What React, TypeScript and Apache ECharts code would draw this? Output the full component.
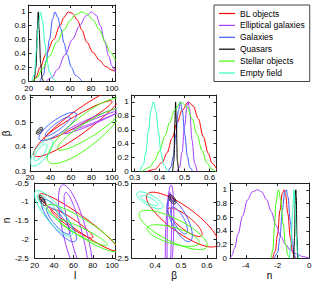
import React, { useEffect, useRef } from 'react';
import * as echarts from 'echarts';

const names = ['BL objects', 'Elliptical galaxies', 'Galaxies', 'Quasars', 'Stellar objects', 'Empty field'];
const colors = ['#ff0000', '#a53cff', '#3f5bff', '#000000', '#44ff11', '#33ffbb'];

// ---- 1D marginal of l ----
const lBL = [[24,0],[27,0.05],[31,0.2],[37,0.4],[44,0.6],[50,0.8],[54,0.92],[58,1],[62,0.98],[67,0.88],[71,0.74],[76,0.56],[82,0.41],[88,0.3],[94,0.21],[100,0.16],[103.5,0.14]];
const lEll = [[37,0],[42,0.05],[48,0.17],[55,0.38],[62,0.6],[69,0.8],[75,0.94],[80.5,1],[85,0.95],[89,0.8],[93,0.58],[97,0.36],[100,0.22],[103.5,0.12]];
const lGal = [[31,0],[34,0.08],[37,0.3],[40,0.6],[43,0.9],[45.3,1],[48,0.92],[51,0.75],[54,0.55],[57,0.38],[61,0.2],[65,0.08],[71,0]];
const lQso = [[25.5,0],[27,0.2],[28.4,0.75],[29.2,1],[30,0.75],[31.5,0.25],[33,0.03],[34,0]];
const lStar = [[24,0],[28,0.05],[33,0.17],[40,0.36],[47,0.56],[54,0.74],[60,0.88],[65,0.96],[71,1],[76,0.97],[82,0.88],[88,0.74],[94,0.55],[98,0.42],[103.5,0.3]];
const lEmpty = [[23,0],[25.5,0.1],[27.5,0.45],[29.5,0.85],[31.5,1],[33.5,0.85],[35.5,0.55],[37.5,0.3],[40,0.13],[43,0.04],[46,0]];

// ---- 1D marginal of beta ----
const bBL = [[0.35,0],[0.38,0.03],[0.41,0.13],[0.43,0.27],[0.45,0.48],[0.47,0.7],[0.49,0.88],[0.515,1],[0.535,0.94],[0.555,0.76],[0.575,0.5],[0.595,0.26],[0.61,0.12],[0.628,0.04]];
const bEll = [[0.47,0],[0.48,0.06],[0.49,0.28],[0.5,0.65],[0.51,0.95],[0.514,1],[0.52,0.9],[0.53,0.45],[0.54,0.12],[0.55,0]];
const bGal = [[0.435,0],[0.445,0.06],[0.455,0.22],[0.465,0.53],[0.475,0.87],[0.483,1],[0.491,0.87],[0.501,0.53],[0.511,0.22],[0.521,0.06],[0.532,0]];
const bQso = [[0.452,0],[0.457,0.15],[0.461,0.7],[0.464,1],[0.467,0.7],[0.471,0.15],[0.476,0]];
const bStar = [[0.33,0],[0.36,0.06],[0.38,0.16],[0.4,0.3],[0.42,0.5],[0.44,0.7],[0.46,0.88],[0.485,1],[0.51,0.93],[0.53,0.76],[0.55,0.53],[0.57,0.3],[0.59,0.12],[0.61,0.03],[0.625,0]];
const bEmpty = [[0.32,0],[0.335,0.1],[0.345,0.28],[0.355,0.58],[0.365,0.88],[0.375,1],[0.385,0.88],[0.395,0.58],[0.405,0.28],[0.415,0.1],[0.43,0]];

// ---- 1D marginal of n ----
const nBL = [[-2.3,0],[-2.15,0.1],[-2.0,0.35],[-1.85,0.7],[-1.7,0.95],[-1.6,1],[-1.5,0.93],[-1.35,0.65],[-1.2,0.3],[-1.05,0.08],[-0.95,0]];
const nEll = [[-5,0],[-4.9,0.03],[-4.7,0.15],[-4.5,0.35],[-4.2,0.62],[-3.9,0.85],[-3.6,0.97],[-3.25,1],[-3.0,0.97],[-2.7,0.86],[-2.4,0.68],[-2.1,0.48],[-1.8,0.32],[-1.5,0.2],[-1.2,0.12],[-0.8,0.06],[-0.4,0.02],[0,0]];
const nGal = [[-2.2,0],[-2.0,0.08],[-1.85,0.3],[-1.7,0.7],[-1.55,0.97],[-1.45,1],[-1.35,0.9],[-1.2,0.55],[-1.05,0.2],[-0.95,0.05],[-0.85,0]];
const nQso = [[-0.98,0],[-0.93,0.3],[-0.88,0.9],[-0.85,1],[-0.82,0.9],[-0.78,0.3],[-0.73,0]];
const nStar = [[-2.4,0],[-2.3,0.12],[-2.2,0.45],[-2.1,0.82],[-1.95,1],[-1.8,0.85],[-1.65,0.5],[-1.5,0.2],[-1.35,0.04],[-1.25,0]];
const nEmpty = [[-1.25,0],[-1.15,0.2],[-1.05,0.7],[-0.97,1],[-0.9,0.8],[-0.82,0.35],[-0.75,0.08],[-0.68,0]];

// ---- 2D contours: [x1, y1, x2, y2, minor/major] (major-axis ends), outer then inner ----
const lbBL = [[24,0.365,112,0.635,0.2],[34,0.43,100,0.585,0.13]];
const lbEll = [[53,0.455,112,0.56,0.1],[61,0.47,110,0.55,0.06]];
const lbGal = [[29,0.43,65,0.535,0.3],[35,0.445,59,0.52,0.22]];
const lbQso = [[26.5,0.452,32,0.478,0.45],[27.5,0.458,31,0.472,0.3]];
const lbStar = [[38,0.34,112,0.59,0.3],[47,0.39,108,0.55,0.2]];
const lbEmpty = [[21.5,0.325,41,0.43,0.4],[24.5,0.345,36,0.41,0.35]];

const lnBL = [[25,-0.8,106,-2.3,0.15],[37,-1.2,80,-1.95,0.17]];
const lnEll = [[49,-0.55,76,-3.3,0.22],[52,-0.75,74,-3.0,0.14]];
const lnGal = [[28,-0.95,62,-2.05,0.3],[33,-1.15,56,-1.85,0.3]];
const lnQso = [[25,-0.83,31,-1.1,0.35],[26,-0.88,30,-1.03,0.3]];
const lnStar = [[33,-1.1,106,-2.3,0.2],[45,-1.5,95,-2.15,0.15]];
const lnEmpty = [[21,-0.72,58,-1.9,0.3],[23,-0.8,45,-1.45,0.25]];

const bnBL = [[0.37,-0.8,0.64,-2.15,0.3],[0.45,-1.19,0.58,-1.9,0.3]];
const bnEll = [[0.462,-0.55,0.45,-3.2,0.08],[0.458,-0.75,0.452,-3.0,0.05]];
const bnGal = [[0.455,-0.95,0.535,-2.05,0.35],[0.465,-1.15,0.52,-1.85,0.35]];
const bnQso = [[0.455,-0.82,0.478,-1.05,0.5],[0.459,-0.86,0.474,-1.0,0.4]];
const bnStar = [[0.34,-1.3,0.6,-2.2,0.3],[0.37,-1.7,0.57,-2.1,0.3]];
const bnEmpty = [[0.33,-0.77,0.43,-1.15,0.35],[0.345,-0.85,0.41,-1.08,0.3]];

// ---- axes ----
const lTicks = [20, 40, 60, 80, 100];
const pdfTicks = [0, 0.2, 0.4, 0.6, 0.8, 1];
const betaTicks = [0.3, 0.4, 0.5, 0.6];
const betaTicks2 = [0.4, 0.5, 0.6];
const nTicks = [-2.5, -2, -1.5, -1, -0.5];
const nLabels2 = [-2.5, -0.5];
const nxTicks = [-4, -2, 0];

const FONT = 'Liberation Sans, Arial, Helvetica, sans-serif';

function fmt(v: number) {
  return String(Math.round(v * 1000) / 1000);
}

function mkAxes(dir: 'x' | 'y', gi: number, min: number, max: number, ticks: number[], labels: number[], name?: string, nameGap?: number, labelExtra?: any) {
  const line = { show: true, onZero: false, lineStyle: { color: '#222', width: 1 } };
  const main: any = {
    type: 'value', gridIndex: gi, min, max, position: dir === 'x' ? 'bottom' : 'left',
    axisLine: line,
    axisTick: { show: true, inside: true, length: 3, customValues: ticks, lineStyle: { color: '#222', width: 1 } },
    axisLabel: { show: true, customValues: labels, formatter: fmt, color: '#000', fontSize: 8, lineHeight: 8, fontFamily: FONT, margin: 3, hideOverlap: false, showMinLabel: true, showMaxLabel: true, ...(labelExtra || {}) },
    splitLine: { show: false },
  };
  if (name) {
    main.name = name;
    main.nameLocation = 'middle';
    main.nameGap = nameGap;
    main.nameTextStyle = { fontSize: 10, fontFamily: FONT, color: '#000' };
    if (dir === 'y') main.nameRotate = 90;
  }
  const mirror: any = {
    type: 'value', gridIndex: gi, min, max, position: dir === 'x' ? 'top' : 'right',
    axisLine: line,
    axisTick: { show: true, inside: true, length: 3, customValues: ticks, lineStyle: { color: '#222', width: 1 } },
    axisLabel: { show: false },
    splitLine: { show: false },
  };
  return [main, mirror];
}

function ellipseRenderer(color: string) {
  return (params: any, api: any) => {
    const p1 = api.coord([api.value(0), api.value(1)]);
    const p2 = api.coord([api.value(2), api.value(3)]);
    const r = api.value(4);
    const cx = (p1[0] + p2[0]) / 2;
    const cy = (p1[1] + p2[1]) / 2;
    const dx = (p2[0] - p1[0]) / 2;
    const dy = (p2[1] - p1[1]) / 2;
    const a = Math.hypot(dx, dy) || 1;
    const ux = dx / a, uy = dy / a;
    const b = a * r;
    const pts: number[][] = [];
    for (let i = 0; i < 90; i++) {
      const t = (i / 90) * Math.PI * 2;
      const c = Math.cos(t) * a, s = Math.sin(t) * b;
      pts.push([cx + c * ux - s * uy, cy + c * uy + s * ux]);
    }
    return { type: 'polygon', shape: { points: pts }, style: { fill: 'none', stroke: color, lineWidth: 1 } };
  };
}

export default function App() {
  const ref = useRef<HTMLDivElement>(null);
  useEffect(() => {
    if (!ref.current) return;
    const chart = echarts.init(ref.current, undefined, { renderer: 'svg' });

    const grids = [
      { left: 28.7, top: 5, width: 86.8, height: 76 },
      { left: 28.7, top: 95, width: 86.8, height: 76.5 },
      { left: 131.7, top: 95, width: 84.8, height: 76.5 },
      { left: 28.7, top: 183, width: 86.8, height: 78 },
      { left: 131.7, top: 183, width: 84.8, height: 78 },
      { left: 230, top: 183, width: 79.3, height: 78 },
    ];

    const tight = { margin: 2, lineHeight: 7 };
    const raised = { lineHeight: 7, padding: [0, 0, 3, 0], margin: 4 };
    const lower = { lineHeight: 7, padding: [3, 0, 0, 0] };
    const lowerWide = { lineHeight: 7, padding: [4, 0, 0, 0], margin: 6 };

    const xAxes = [
      ...mkAxes('x', 0, 20, 103.5, lTicks, lTicks),
      ...mkAxes('x', 1, 20, 103.5, lTicks, lTicks, undefined, undefined, tight),
      ...mkAxes('x', 2, 0.288, 0.628, betaTicks, betaTicks, undefined, undefined, tight),
      ...mkAxes('x', 3, 20, 103.5, lTicks, lTicks, 'l', 10),
      ...mkAxes('x', 4, 0.31, 0.637, betaTicks2, betaTicks2, 'β', 10),
      ...mkAxes('x', 5, -5, 0, nxTicks, nxTicks, 'n', 10),
    ];
    const yAxes = [
      ...mkAxes('y', 0, 0, 1.1, pdfTicks, pdfTicks),
      ...mkAxes('y', 1, 0.3, 0.61, betaTicks, betaTicks, 'β', 18, raised),
      ...mkAxes('y', 2, 0, 1.1, pdfTicks, pdfTicks),
      ...mkAxes('y', 3, -2.5, -0.5, nTicks, nTicks, 'n', 20, lowerWide),
      ...mkAxes('y', 4, -2.5, -0.5, nTicks, nLabels2, undefined, undefined, lower),
      ...mkAxes('y', 5, 0, 1.1, pdfTicks, pdfTicks),
    ];

    const oneD = [
      { g: 0, sets: [lBL, lEll, lGal, lQso, lStar, lEmpty] },
      { g: 2, sets: [bBL, bEll, bGal, bQso, bStar, bEmpty] },
      { g: 5, sets: [nBL, nEll, nGal, nQso, nStar, nEmpty] },
    ];
    const twoD = [
      { g: 1, sets: [lbBL, lbEll, lbGal, lbQso, lbStar, lbEmpty] },
      { g: 3, sets: [lnBL, lnEll, lnGal, lnQso, lnStar, lnEmpty] },
      { g: 4, sets: [bnBL, bnEll, bnGal, bnQso, bnStar, bnEmpty] },
    ];

    const series: any[] = [];
    oneD.forEach(({ g, sets }) => {
      sets.forEach((d, i) => {
        series.push({
          type: 'line', name: g === 0 ? names[i] : names[i] + ' ' + g,
          xAxisIndex: 2 * g, yAxisIndex: 2 * g, data: d,
          smooth: 0.35, smoothMonotone: 'x', symbol: 'none', showSymbol: false,
          lineStyle: { color: colors[i], width: 1 }, itemStyle: { color: colors[i] },
          silent: true,
        });
      });
    });
    twoD.forEach(({ g, sets }) => {
      sets.forEach((d, i) => {
        series.push({
          type: 'custom', name: names[i] + ' c' + g,
          xAxisIndex: 2 * g, yAxisIndex: 2 * g, data: d,
          encode: { x: [0, 2], y: [1, 3] },
          renderItem: ellipseRenderer(colors[i]), clip: true, silent: true,
          itemStyle: { color: colors[i] },
        });
      });
    });

    chart.setOption({
      animation: false,
      backgroundColor: '#fff',
      textStyle: { fontFamily: FONT },
      grid: grids,
      xAxis: xAxes,
      yAxis: yAxes,
      legend: {
        data: names, orient: 'vertical', left: 214, top: 5,
        padding: [4, 5, 4, 5], itemGap: 2.9, itemWidth: 16, itemHeight: 1.2,
        icon: 'rect',
        borderColor: '#444', borderWidth: 1, backgroundColor: '#fff',
        selectedMode: false,
        textStyle: { fontSize: 8.5, lineHeight: 8.5, fontFamily: FONT, color: '#000' },
      },
      series,
    });
    return () => chart.dispose();
  }, []);
  return <div ref={ref} style={{ position: 'fixed', left: 0, top: 0, width: 318, height: 281, background: '#fff' }} />;
}
